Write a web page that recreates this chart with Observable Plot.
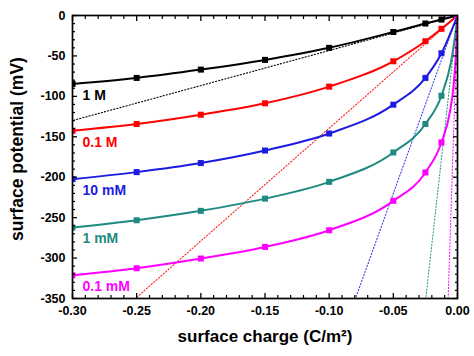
<!DOCTYPE html>
<html><head><meta charset="utf-8">
<script src="https://cdn.jsdelivr.net/npm/d3@7"></script>
<script src="https://cdn.jsdelivr.net/npm/@observablehq/plot@0.6"></script>
<style>body{margin:0;background:#fff}</style>
</head><body><div id="chart"></div>
<script>
// surface charge (C/m²) at which markers are shown
const charge = [-0.30, -0.25, -0.20, -0.15, -0.10, -0.05, -0.025, -0.0125, 0];
// surface potential (mV) for each salt concentration
const pot1M    = [-84.6, -77.2, -66.9, -54.9, -40.0, -20.4, -9.9, -5.0, 0];
const pot01M   = [-142.5, -134.2, -122.7, -108.6, -88.0, -56.6, -31.8, -16.5, 0];
const pot10mM  = [-202.4, -193.7, -182.5, -167.0, -146.0, -110.3, -77.2, -46.7, 0];
const pot1mM   = [-262.3, -253.2, -241.6, -226.5, -205.7, -169.4, -134.2, -99.2, 0];
const pot01mM  = [-321.3, -312.6, -300.6, -286.2, -265.6, -229.2, -194.1, -157.0, 0];
// extra curve points read near zero charge (line only)
const nearCharge1mM = [-0.005, -0.0025];
const nearPot1mM = [-57, -33];
const nearCharge01mM = [-0.006, -0.003, -0.001];
const nearPot01mM = [-120, -86, -40];

const seriesNames = ["1 M", "0.1 M", "10 mM", "1 mM", "0.1 mM"];
const seriesColors = ["#000000", "#ff0000", "#1c1ce0", "#1f8a80", "#ff00ff"];
const dottedColors = ["#000000", "#ff2020", "#4040e8", "#2a9a90", "#ff20ff"];
// linear approximation lines: from origin to these end points
const linearEndCharge = [-0.30, -0.251, -0.0795, -0.0247, -0.0073];
const linearEndPot = [-130, -350, -350, -350, -350];
// label anchors
const labelCharge = -0.30;
const labelPot = [-99, -157, -216, -276, -335];

const xTicks = [-0.30, -0.25, -0.20, -0.15, -0.10, -0.05, 0];
const xTickLabels = ["-0.30", "-0.25", "-0.20", "-0.15", "-0.10", "-0.05", "0.00"];
const xMinor = [-0.29,-0.28,-0.27,-0.26,-0.24,-0.23,-0.22,-0.21,-0.19,-0.18,-0.17,-0.16,-0.14,-0.13,-0.12,-0.11,-0.09,-0.08,-0.07,-0.06,-0.04,-0.03,-0.02,-0.01];
const yTicks = [0, -50, -100, -150, -200, -250, -300, -350];
const yTickLabels = ["0", "-50", "-100", "-150", "-200", "-250", "-300", "-350"];
const yMinor = [-340,-330,-320,-310,-290,-280,-270,-260,-240,-230,-220,-210,-190,-180,-170,-160,-140,-130,-120,-110,-90,-80,-70,-60,-40,-30,-20,-10];

const pots = [pot1M, pot01M, pot10mM, pot1mM, pot01mM];
const nearC = [[], [], [], nearCharge1mM, nearCharge01mM];
const nearP = [[], [], [], nearPot1mM, nearPot01mM];

const marks = [];
seriesNames.forEach((name, i) => {
  const markers = charge.map((c, j) => ({x: c, y: pots[i][j]}));
  const curve = markers.concat(nearC[i].map((c, j) => ({x: c, y: nearP[i][j]})))
    .sort((a, b) => a.x - b.x);
  const lin = [{x: 0, y: 0}, {x: linearEndCharge[i], y: linearEndPot[i]}];
  marks.push(Plot.line(lin, {x: "x", y: "y", stroke: dottedColors[i], strokeWidth: 1.1, strokeDasharray: "1.2,2", clip: true}));
  marks.push(Plot.line(curve, {x: "x", y: "y", stroke: seriesColors[i], strokeWidth: 2, curve: "monotone-x", clip: true}));
  marks.push(Plot.dot(markers, {x: "x", y: "y", fill: seriesColors[i], symbol: "square", r: 3.4, clip: true}));
  marks.push(Plot.text([{x: labelCharge, y: labelPot[i], t: name}], {x: "x", y: "y", text: "t", dx: 10, textAnchor: "start", fill: seriesColors[i], fontSize: 14, fontWeight: "bold"}));
});

const chart = Plot.plot({
  width: 474,
  height: 356,
  marginLeft: 72,
  marginRight: 17,
  marginTop: 15,
  marginBottom: 58,
  style: {fontFamily: "'Liberation Sans', Arial, sans-serif", fontWeight: "bold", color: "#000", background: "#fff"},
  x: {domain: [-0.30, 0]},
  y: {domain: [-350, 0]},
  marks: [
    ...marks,
    Plot.axisX({anchor: "bottom", ticks: xTicks, tickSize: -5, tickPadding: 13, tickFormat: d => xTickLabels[xTicks.indexOf(d)], fontSize: 12.5, label: null, strokeWidth: 1.3}),
    Plot.axisX({anchor: "bottom", ticks: xMinor, tickSize: -3, tickFormat: () => "", label: null, strokeWidth: 1.2}),
    Plot.axisX({anchor: "top", ticks: xTicks, tickSize: -5, tickFormat: () => "", label: null, strokeWidth: 1.3}),
    Plot.axisX({anchor: "top", ticks: xMinor, tickSize: -3, tickFormat: () => "", label: null, strokeWidth: 1.2}),
    Plot.axisY({anchor: "left", ticks: yTicks, tickSize: -5, tickPadding: 12, tickFormat: d => yTickLabels[yTicks.indexOf(d)], fontSize: 12.5, label: null, strokeWidth: 1.3}),
    Plot.axisY({anchor: "left", ticks: yMinor, tickSize: -3, tickFormat: () => "", label: null, strokeWidth: 1.2}),
    Plot.axisY({anchor: "right", ticks: yTicks, tickSize: -5, tickFormat: () => "", label: null, strokeWidth: 1.3}),
    Plot.axisY({anchor: "right", ticks: yMinor, tickSize: -3, tickFormat: () => "", label: null, strokeWidth: 1.2}),
    Plot.frame({strokeWidth: 1.7}),
    Plot.text(["surface charge (C/m²)"], {frameAnchor: "bottom", dy: 38, lineAnchor: "middle", textAnchor: "middle", fontSize: 17, fontWeight: "bold"}),
    Plot.text(["surface potential (mV)"], {frameAnchor: "left", rotate: -90, dx: -55, dy: -8, lineAnchor: "middle", textAnchor: "middle", fontSize: 17.5, fontWeight: "bold"})
  ]
});
document.getElementById("chart").appendChild(chart);
</script>
</body></html>
